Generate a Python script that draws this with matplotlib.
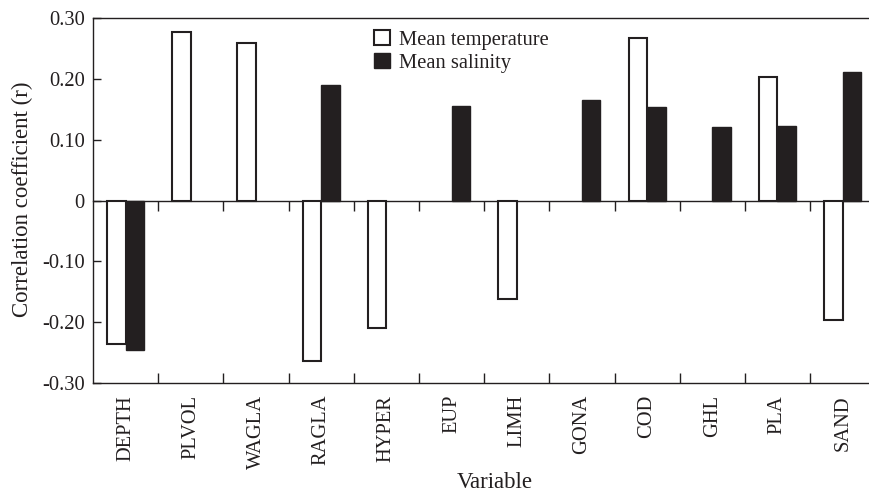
import numpy as np
import matplotlib
matplotlib.use('Agg')
from matplotlib import pyplot as plt
from matplotlib.patches import Patch

# data (nan = no bar)
variables = ['DEPTH', 'PLVOL', 'WAGLA', 'RAGLA', 'HYPER', 'EUP',
             'LIMH', 'GONA', 'COD', 'GHL', 'PLA', 'SAND']
temperature = [-0.235, 0.277, 0.260, -0.264, -0.209, np.nan,
               -0.162, np.nan, 0.267, np.nan, 0.204, -0.197]
salinity = [-0.245, np.nan, np.nan, 0.191, np.nan, 0.156,
            np.nan, 0.165, 0.154, 0.121, 0.123, 0.211]
yticks = [0.30, 0.20, 0.10, 0, -0.10, -0.20, -0.30]
yticklabels = ['0.30', '0.20', '0.10', '0', '-0.10', '-0.20', '-0.30']

ink = '#231f20'
plt.rcParams['font.family'] = ['Liberation Serif', 'DejaVu Serif']
plt.rcParams['font.size'] = 14.8

fig = plt.figure(figsize=(8.7, 4.92), dpi=100)
ax = fig.add_axes([0.107, 0.2215, 0.899, 0.7413])

x = np.arange(len(variables))
w = 0.285
ax.bar(x - w/2, temperature, w, color='white', edgecolor=ink, linewidth=1.5, zorder=3)
ax.bar(x + w/2, salinity, w, color=ink, edgecolor=ink, linewidth=1.0, zorder=3)

ax.set_xlim(-0.5, len(variables) - 0.5)
ax.set_ylim(-0.30, 0.30)
ax.set_yticks(yticks)
ax.set_yticklabels(yticklabels)

# separator ticks (no labels), labels at category centres
ax.set_xticks(x[:-1] + 0.5)
ax.set_xticklabels([])
ax.set_xticks(x, minor=True)
ax.set_xticklabels(variables, minor=True, rotation=90)
ax.tick_params(axis='x', which='minor', length=0, pad=8.6, colors=ink)
ax.tick_params(axis='x', which='major', direction='in', length=7, width=1, color=ink)
ax.tick_params(axis='y', direction='in', length=6, width=1, pad=6, colors=ink)

for s in ['left', 'bottom', 'top']:
    ax.spines[s].set_color(ink)
    ax.spines[s].set_linewidth(1.0)
ax.spines['right'].set_visible(False)

# zero line with downward ticks at the separators
sec = ax.secondary_xaxis(0.5)
sec.set_xticks(x[:-1] + 0.5)
sec.tick_params(direction='in', length=7, width=1, color=ink, labeltop=False, labelbottom=False)
for s in sec.spines.values():
    s.set_color(ink)
    s.set_linewidth(1.0)

ax.set_ylabel('Correlation coefficient (r)', color=ink, fontsize=16.5)
ax.yaxis.set_label_coords(-0.077, 0.505)
ax.set_xlabel('Variable', color=ink, fontsize=16.5)
ax.xaxis.set_label_coords(0.514, -0.245)

handles = [Patch(facecolor='white', edgecolor=ink, linewidth=1.5),
           Patch(facecolor=ink, edgecolor=ink)]
ax.legend(handles, ['Mean temperature', 'Mean salinity'], frameon=False,
          loc='upper left', bbox_to_anchor=(0.359, 0.969), borderpad=0,
          borderaxespad=0, handlelength=0.8, handleheight=0.8,
          handletextpad=0.4, labelspacing=0.15, labelcolor=ink)

fig.savefig('out.png', dpi=100)
